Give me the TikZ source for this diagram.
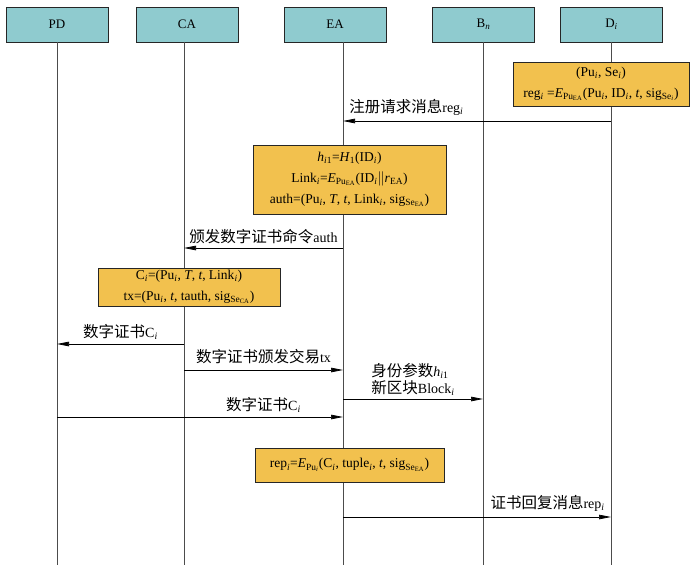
\documentclass[tikz,border=0pt]{standalone}
\usepackage{fontspec}
\setmainfont{Liberation Serif}
\newfontfamily\cjk{Noto Sans CJK SC}
\usetikzlibrary{arrows.meta,calc}
\definecolor{headteal}{HTML}{8FCBCF}
\definecolor{calcgold}{HTML}{F2C14E}
\newcommand{\sbs}[1]{\textsubscript{#1}}
\newcommand{\iv}{\textit{i}}
\newcommand{\zh}[1]{{\cjk\fontsize{15.5}{17}\selectfont #1}}

\begin{document}
\begin{tikzpicture}[x=1pt,y=-1pt,
  actor/.style={draw=black!85, fill=headteal, line width=0.8pt,
    minimum width=102pt, minimum height=35pt, inner sep=0pt,
    font=\fontsize{13}{14}\selectfont},
  calcbox/.style={draw=black!85, fill=calcgold, line width=0.8pt,
    align=center, inner sep=0pt, font=\fontsize{13.5}{21}\selectfont},
  life/.style={draw=black!70, line width=0.7pt},
  msg/.style={draw=black, line width=0.7pt,
    -{Triangle[length=12pt,width=4.5pt]}},
  lbl/.style={inner sep=0pt, font=\fontsize{14}{17}\selectfont}
]
\useasboundingbox (0,0) rectangle (700,567);

% participants
\node[actor] (PD) at (57,24.5) {PD};
\node[actor] (CA) at (187,24.5) {CA};
\node[actor] (EA) at (335,24.5) {EA};
\node[actor] (Bn) at (483.5,24.5) {B\sbs{\textit{n}}};
\node[actor] (Di) at (611.5,24.5) {D\sbs{\iv}};

% lifelines
\coordinate (pdL) at (57,42);
\coordinate (caL) at (184,42);
\coordinate (eaL) at (343,42);
\coordinate (bnL) at (483,42);
\coordinate (diL) at (611,42);
\coordinate (pdE) at (57,565);
\coordinate (caE) at (184,565);
\coordinate (eaE) at (343,565);
\coordinate (bnE) at (483,565);
\coordinate (diE) at (611,565);
\foreach \a/\b in {pdL/pdE,caL/caE,eaL/eaE,bnL/bnE,diL/diE}
  \draw[life] (\a) -- (\b);

% local computations
\node[calcbox, minimum width=176pt, minimum height=44pt] (regbox) at (601,84)
  {(Pu\sbs{\iv}, Se\sbs{\iv})\\
   reg\sbs{\iv} =\textit{E}\sbs{Pu\sbs{EA}}(Pu\sbs{\iv}, ID\sbs{\iv}, \textit{t}, sig\sbs{Se\sbs{\iv}})};

\node[calcbox, minimum width=193pt, minimum height=69pt] (authbox) at (349.5,179.5)
  {\textit{h}\sbs{\textit{i}1}=\textit{H}\sbs{1}(ID\sbs{\iv})\\
   Link\sbs{\iv}=\textit{E}\sbs{Pu\sbs{EA}}(ID\sbs{\iv}$\|$\textit{r}\sbs{EA})\\
   auth=(Pu\sbs{\iv}, \textit{T}, \textit{t}, Link\sbs{\iv}, sig\sbs{Se\sbs{EA}})};

\node[calcbox, minimum width=182pt, minimum height=38pt] (certbox) at (189,287)
  {C\sbs{\iv}=(Pu\sbs{\iv}, \textit{T}, \textit{t}, Link\sbs{\iv})\\
   tx=(Pu\sbs{\iv}, \textit{t}, tauth, sig\sbs{Se\sbs{CA}})};

\node[calcbox, minimum width=189pt, minimum height=34pt] (repbox) at (349.5,465)
  {rep\sbs{\iv}=\textit{E}\sbs{Pu\sbs{\iv}}(C\sbs{\iv}, tuple\sbs{\iv}, \textit{t}, sig\sbs{Se\sbs{EA}})};

% messages
\draw[msg] (diL |- 0,121) -- (eaL |- 0,121)
  node[lbl, pos=1, anchor=south west, xshift=6pt, yshift=5pt] (m1) {\zh{注册请求消息}reg\sbs{\iv}};

\draw[msg] (eaL |- 0,248) -- (caL |- 0,248)
  node[lbl, midway, anchor=south, yshift=4pt] (m2) {\zh{颁发数字证书命令}auth};

\draw[msg] (caL |- 0,344) -- (pdL |- 0,344)
  node[lbl, midway, anchor=south, yshift=4pt] (m3) {\zh{数字证书}C\sbs{\iv}};

\draw[msg] (caL |- 0,370) -- (eaL |- 0,370)
  node[lbl, midway, anchor=south, yshift=6pt] (m4) {\zh{数字证书颁发交易}tx};

\draw[msg] (eaL |- 0,399) -- (bnL |- 0,399)
  node[lbl, midway, anchor=south, yshift=3pt, align=left] (m5)
  {\zh{身份参数}\textit{h}\sbs{\textit{i}1}\\ \zh{新区块}Block\sbs{\iv}};

\draw[msg] (pdL |- 0,417) -- (eaL |- 0,417);
\node[lbl, anchor=south, yshift=4pt] (m6) at ($(caL |- 0,417)!0.5!(eaL |- 0,417)$)
  {\zh{数字证书}C\sbs{\iv}};

\draw[msg] (eaL |- 0,517) -- (diL |- 0,517)
  node[lbl, pos=1, anchor=south east, xshift=-6pt, yshift=5pt] (m7) {\zh{证书回复消息}rep\sbs{\iv}};
\end{tikzpicture}
\end{document}
